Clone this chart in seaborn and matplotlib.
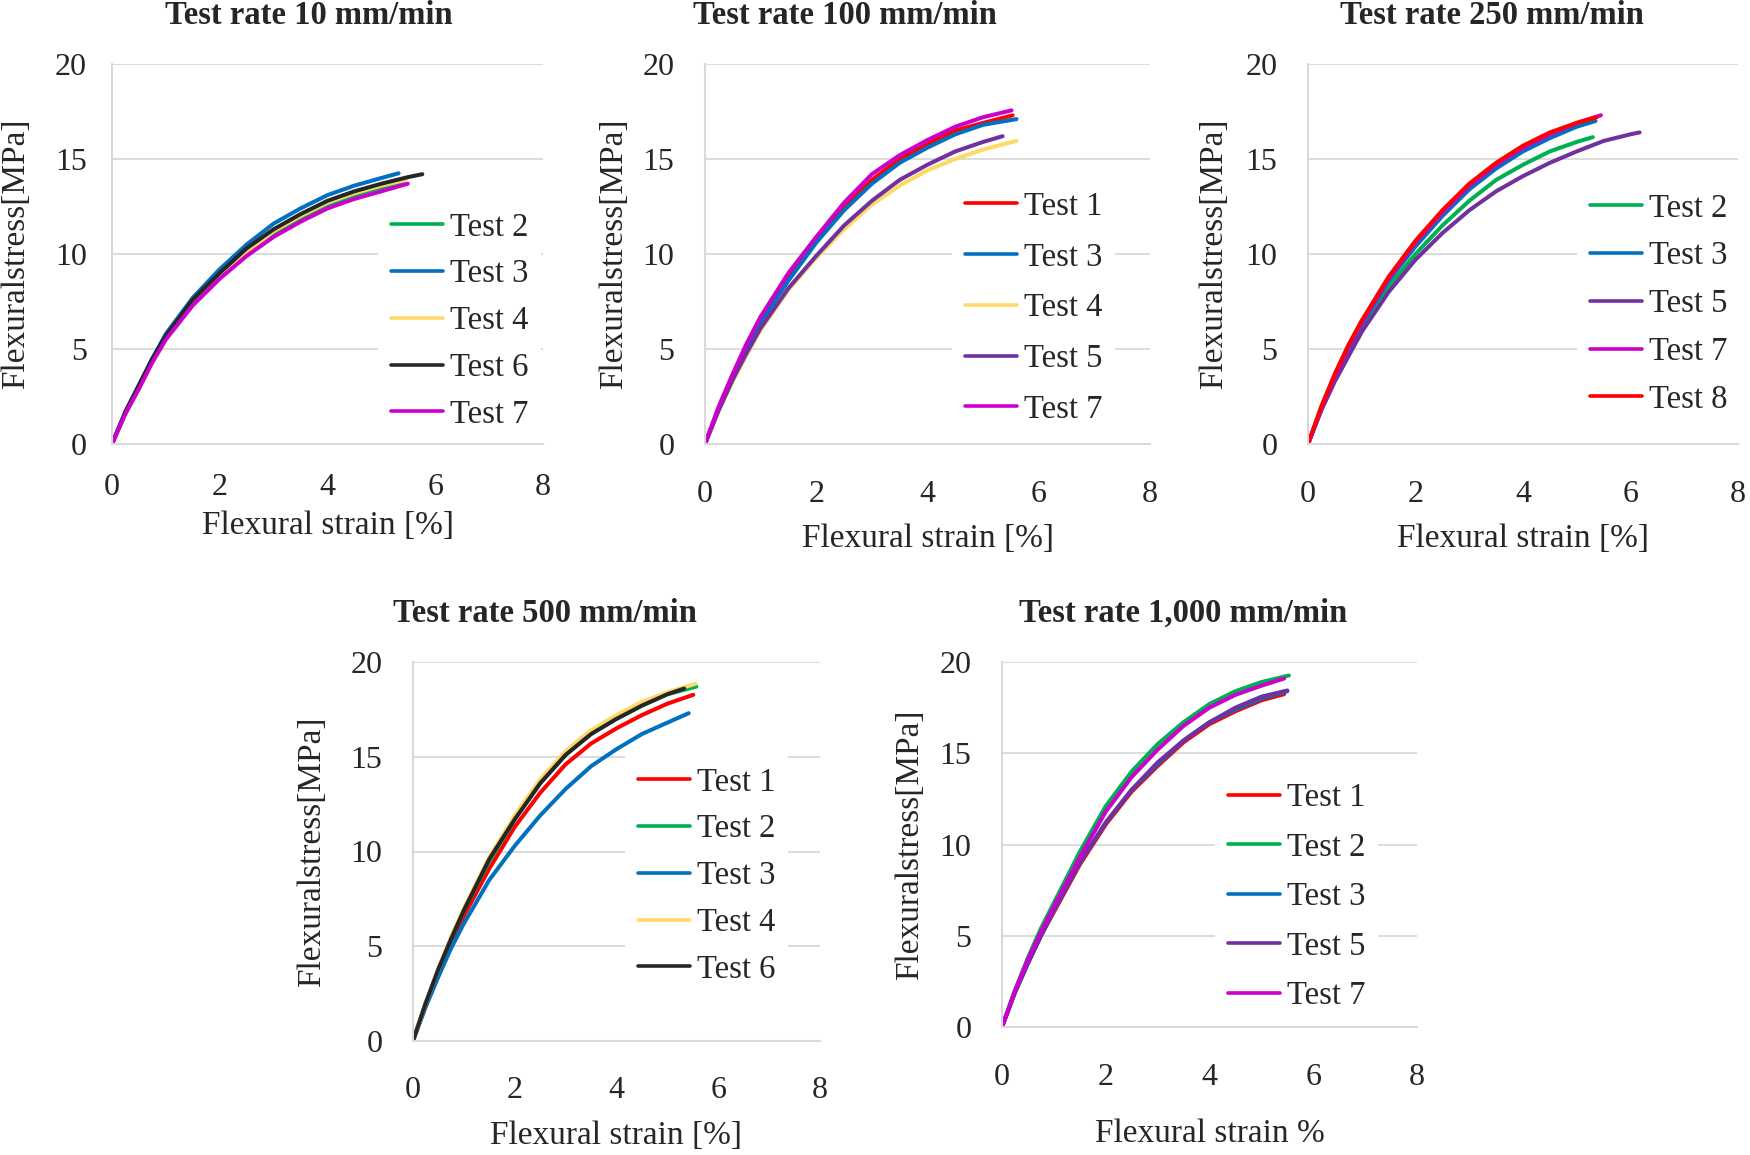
import matplotlib
matplotlib.use("Agg")
import matplotlib.pyplot as plt
import numpy as np
import pandas as pd
import seaborn as sns

# strain grid (%) shared by all curves; each curve adds its own end point
strain_grid = [0, 0.25, 0.5, 0.75, 1, 1.5, 2, 2.5, 3, 3.5, 4, 4.5, 5, 5.5, 6]

# Test rate 10 mm/min
rate10_tests = ["Test 2", "Test 3", "Test 4", "Test 6", "Test 7"]
rate10_stress = [
    [0, 1.6, 3.0, 4.4, 5.6, 7.5, 8.8, 10.0, 11.1, 11.9, 12.6, 13.1, 13.5],
    [0, 1.7, 3.1, 4.5, 5.8, 7.7, 9.2, 10.5, 11.6, 12.4, 13.1, 13.6, 14.0],
    [0, 1.6, 3.0, 4.4, 5.6, 7.5, 8.9, 10.1, 11.2, 12.0, 12.7, 13.2, 13.6],
    [0, 1.7, 3.1, 4.5, 5.7, 7.6, 9.0, 10.3, 11.3, 12.1, 12.8, 13.3, 13.7, 14.05],
    [0, 1.6, 2.9, 4.3, 5.5, 7.3, 8.7, 9.9, 10.9, 11.7, 12.4, 12.9, 13.3],
]
rate10_end = [(5.40, 13.80), (5.32, 14.25), (5.45, 13.90), (5.76, 14.20), (5.49, 13.70)]

# Test rate 100 mm/min
rate100_tests = ["Test 1", "Test 3", "Test 4", "Test 5", "Test 7"]
rate100_stress = [
    [0, 1.9, 3.6, 5.1, 6.5, 8.8, 10.8, 12.5, 13.9, 15.0, 15.8, 16.5, 16.9],
    [0, 1.9, 3.5, 5.0, 6.4, 8.6, 10.6, 12.3, 13.7, 14.8, 15.6, 16.3, 16.8],
    [0, 1.8, 3.3, 4.7, 6.0, 8.1, 9.8, 11.3, 12.6, 13.6, 14.4, 15.0, 15.5],
    [0, 1.8, 3.4, 4.8, 6.1, 8.2, 9.9, 11.5, 12.8, 13.9, 14.7, 15.4, 15.9],
    [0, 2.0, 3.7, 5.3, 6.7, 9.0, 10.9, 12.7, 14.2, 15.2, 16.0, 16.7, 17.2],
]
rate100_end = [(5.53, 17.30), (5.60, 17.10), (5.60, 15.95), (5.35, 16.20), (5.51, 17.56)]

# Test rate 250 mm/min
rate250_tests = ["Test 2", "Test 3", "Test 5", "Test 7", "Test 8"]
rate250_stress = [
    [0, 1.8, 3.4, 4.8, 6.1, 8.3, 10.0, 11.5, 12.8, 13.9, 14.7, 15.4, 15.9],
    [0, 1.9, 3.5, 5.0, 6.3, 8.6, 10.4, 12.0, 13.4, 14.5, 15.4, 16.1, 16.7],
    [0, 1.8, 3.3, 4.6, 5.9, 8.0, 9.7, 11.1, 12.3, 13.3, 14.1, 14.8, 15.4, 15.95, 16.3],
    [0, 1.9, 3.6, 5.1, 6.4, 8.7, 10.6, 12.2, 13.6, 14.7, 15.6, 16.3, 16.9],
    [0, 2.0, 3.7, 5.2, 6.5, 8.8, 10.7, 12.3, 13.7, 14.8, 15.7, 16.4, 16.9],
]
rate250_end = [(5.30, 16.15), (5.35, 17.00), (6.17, 16.40), (5.45, 17.30), (5.37, 17.20)]

# Test rate 500 mm/min
rate500_tests = ["Test 1", "Test 2", "Test 3", "Test 4", "Test 6"]
rate500_stress = [
    [0, 2.0, 3.7, 5.2, 6.6, 9.1, 11.3, 13.1, 14.6, 15.7, 16.5, 17.2, 17.8],
    [0, 2.0, 3.8, 5.4, 6.9, 9.5, 11.7, 13.6, 15.1, 16.2, 17.0, 17.7, 18.3],
    [0, 1.8, 3.4, 4.9, 6.2, 8.5, 10.3, 11.9, 13.3, 14.5, 15.4, 16.2, 16.8],
    [0, 2.0, 3.8, 5.5, 7.0, 9.7, 11.9, 13.8, 15.3, 16.4, 17.2, 17.9, 18.4],
    [0, 2.0, 3.8, 5.4, 6.9, 9.6, 11.7, 13.6, 15.1, 16.2, 17.0, 17.7, 18.3],
]
rate500_end = [(5.51, 18.27), (5.57, 18.70), (5.42, 17.30), (5.55, 18.85), (5.33, 18.60)]

# Test rate 1,000 mm/min
rate1000_tests = ["Test 1", "Test 2", "Test 3", "Test 5", "Test 7"]
rate1000_stress = [
    [0, 1.9, 3.5, 5.0, 6.3, 8.9, 11.1, 12.9, 14.3, 15.6, 16.6, 17.3, 17.9],
    [0, 2.0, 3.8, 5.4, 6.8, 9.6, 12.1, 14.0, 15.5, 16.7, 17.7, 18.4, 18.9],
    [0, 1.9, 3.5, 5.0, 6.4, 9.0, 11.2, 13.0, 14.4, 15.7, 16.7, 17.4, 18.0],
    [0, 1.9, 3.5, 5.0, 6.4, 9.0, 11.2, 13.0, 14.5, 15.7, 16.7, 17.5, 18.1],
    [0, 2.0, 3.7, 5.2, 6.6, 9.3, 11.8, 13.7, 15.2, 16.5, 17.5, 18.2, 18.7],
]
rate1000_end = [(5.44, 18.24), (5.53, 19.26), (5.50, 18.40), (5.50, 18.44), (5.44, 19.10)]

test_colors = {
    "Test 1": "#FF0000", "Test 2": "#00B050", "Test 3": "#0070C0",
    "Test 4": "#FFD966", "Test 5": "#7030A0", "Test 6": "#262626",
    "Test 7": "#CC00CC", "Test 8": "#FF0000",
}

W, H = 1750, 1155
FONT = "Liberation Serif"
GRID = "#d9d9d9"

sns.set_style("white")
plt.rcParams["font.family"] = [FONT, "DejaVu Serif"]


def build_df(tests, stress, ends):
    rows = []
    for name, ys, (xe, ye) in zip(tests, stress, ends):
        for x, y in zip(strain_grid[:len(ys)], ys):
            rows.append((name, x, y))
        rows.append((name, xe, ye))
    return pd.DataFrame(rows, columns=["test", "strain", "stress"])


# panel layout in pixels: axes box (left, top, right, bottom), title centre,
# legend (handle x, centre y, label spacing), x label y, y label x, tick pads
panels = [
    dict(title="Test rate 10 mm/min", tests=rate10_tests, stress=rate10_stress, ends=rate10_end,
         box=(112, 64, 543, 444), title_xy=(309, 16), leg=(391, 321, 0.50),
         xlab="Flexural strain [%]", xlab_y=526, ylab_x=16, xpad=21, ypad=18),
    dict(title="Test rate 100 mm/min", tests=rate100_tests, stress=rate100_stress, ends=rate100_end,
         box=(705, 64, 1150, 444), title_xy=(845, 16), leg=(965, 308, 0.62),
         xlab="Flexural strain [%]", xlab_y=539, ylab_x=614, xpad=26, ypad=22),
    dict(title="Test rate 250 mm/min", tests=rate250_tests, stress=rate250_stress, ends=rate250_end,
         box=(1308, 64, 1738, 444), title_xy=(1492, 16), leg=(1590, 304, 0.53),
         xlab="Flexural strain [%]", xlab_y=539, ylab_x=1214, xpad=26, ypad=22),
    dict(title="Test rate 500 mm/min", tests=rate500_tests, stress=rate500_stress, ends=rate500_end,
         box=(413, 662, 820, 1041), title_xy=(545, 613), leg=(638, 876, 0.50),
         xlab="Flexural strain [%]", xlab_y=1136, ylab_x=312, xpad=25, ypad=22),
    dict(title="Test rate 1,000 mm/min", tests=rate1000_tests, stress=rate1000_stress, ends=rate1000_end,
         box=(1002, 662, 1417, 1027), title_xy=(1183, 613), leg=(1228, 897, 0.58),
         xlab="Flexural strain %", xlab_y=1134, ylab_x=910, xpad=26, ypad=22),
]

fig = plt.figure(figsize=(W / 100, H / 100), dpi=100)

for p in panels:
    l, t, r, b = p["box"]
    ax = fig.add_axes([l / W, 1 - b / H, (r - l) / W, (b - t) / H])
    df = build_df(p["tests"], p["stress"], p["ends"])
    sns.lineplot(data=df, x="strain", y="stress", hue="test", palette=test_colors,
                 hue_order=p["tests"], estimator=None, sort=False, lw=2.9,
                 solid_capstyle="round", solid_joinstyle="round", ax=ax)

    ax.set_xlim(0, 8)
    ax.set_ylim(0, 20)
    ax.set_xticks([0, 2, 4, 6, 8])
    ax.set_yticks([0, 5, 10, 15, 20])
    ax.tick_params(length=0, labelsize=23)
    ax.tick_params(axis="x", pad=p["xpad"])
    ax.tick_params(axis="y", pad=p["ypad"])
    ax.yaxis.grid(True, color=GRID, lw=1.3)
    ax.xaxis.grid(False)
    ax.set_axisbelow(True)
    for side in ["top", "right"]:
        ax.spines[side].set_visible(False)
    for side in ["left", "bottom"]:
        ax.spines[side].set_color(GRID)
        ax.spines[side].set_linewidth(1.5)

    ax.set_xlabel(p["xlab"], fontsize=24)
    ax.set_ylabel("Flexuralstress[MPa]", fontsize=24)
    ax.xaxis.set_label_coords(0.5, (b - p["xlab_y"]) / (b - t), transform=ax.transAxes)
    ax.xaxis.label.set_va("center")
    ax.yaxis.set_label_coords((p["ylab_x"] - l) / (r - l), 0.5, transform=ax.transAxes)
    ax.yaxis.label.set_va("center")

    hx, hy, spacing = p["leg"]
    handles, labels = ax.get_legend_handles_labels()
    ax.legend(handles, labels, loc="center left",
              bbox_to_anchor=((hx - 13) / W, 1 - hy / H), bbox_transform=fig.transFigure,
              fontsize=23.5, frameon=True, facecolor="white", edgecolor="none", framealpha=1,
              fancybox=False, borderpad=0.4, borderaxespad=0, handlelength=1.6,
              handletextpad=0.2, labelspacing=spacing)
    for line in ax.get_legend().get_lines():
        line.set_linewidth(2.6)
        line.set_solid_capstyle("round")

    tx, ty = p["title_xy"]
    fig.text(tx / W, 1 - ty / H, p["title"], ha="center", va="center",
             fontsize=23.5, fontweight="bold")

fig.savefig("out.png", dpi=100)
